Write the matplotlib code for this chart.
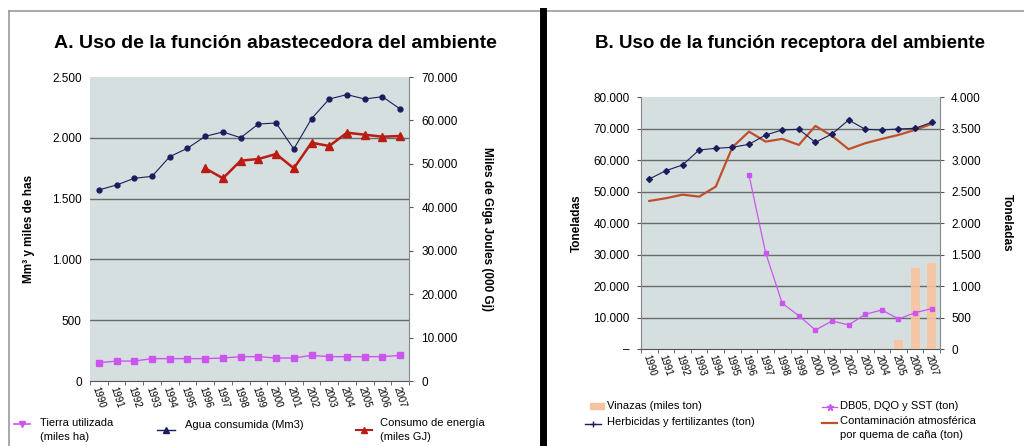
import numpy as np
import matplotlib
matplotlib.use("Agg")
import matplotlib.pyplot as plt
from matplotlib.lines import Line2D
from matplotlib.patches import Rectangle
from matplotlib.ticker import FuncFormatter

plt.rcParams['font.family'] = ['Liberation Sans', 'DejaVu Sans']

years = ['1990', '1991', '1992', '1993', '1994', '1995', '1996', '1997', '1998',
         '1999', '2000', '2001', '2002', '2003', '2004', '2005', '2006', '2007']

# Panel A
tierra = [150, 164, 164, 184, 184, 184, 184, 189, 200, 200, 189, 189, 211, 200, 200, 200, 200, 211]
agua = [1571, 1612, 1667, 1683, 1845, 1914, 2012, 2048, 2001, 2113, 2122, 1908, 2157, 2319, 2355, 2319, 2338, 2237]
energia = [np.nan, np.nan, np.nan, np.nan, np.nan, np.nan, 48977, 46675, 50727, 51118, 52270, 48977,
           54870, 54112, 57175, 56715, 56255, 56415]

# Panel B
herbicidas = [54037, 56680, 58487, 63256, 63786, 64104, 65058, 68025, 69614, 69826, 65694, 68343,
              72791, 69826, 69614, 69932, 70144, 72049]
contaminacion = [2353, 2396, 2453, 2421, 2580, 3206, 3455, 3296, 3339, 3243, 3545, 3386,
                 3175, 3270, 3339, 3402, 3482, 3577]
db05 = [np.nan, np.nan, np.nan, np.nan, np.nan, np.nan, 2766, 1531, 727, 530, 302, 445,
        382, 551, 620, 477, 577, 641]
vinazas = [0, 0, 0, 0, 0, 0, 0, 0, 0, 0, 0, 0, 0, 0, 0, 143, 1283, 1362]

BG = '#d6dfe0'
GRID = '#6a6a6a'
NAVY = '#1c1c5c'
RED = '#b81c14'
PURPLE = '#cc55ee'
BROWN = '#c0502a'
PEACH = '#f8c4a0'

def thousands(x, pos):
    return f"{int(round(x)):,}".replace(',', '.')

W, H = 1024, 446
fig = plt.figure(figsize=(W / 100, H / 100), dpi=100)

def fx(px):
    return px / W

def fy(py):
    return 1 - py / H

x = np.arange(len(years))

# ---------------- Panel A ----------------
axA = fig.add_axes([fx(90), fy(381), fx(409) - fx(90), fy(77) - fy(381)])
axA.set_facecolor(BG)
axA.set_xlim(-0.5, len(years) - 0.5)
axA.set_ylim(0, 2500)
axA.set_yticks([0, 500, 1000, 1500, 2000, 2500])
axA.yaxis.set_major_formatter(FuncFormatter(thousands))
for v in [500, 1000, 1500, 2000]:
    axA.axhline(v, color=GRID, lw=1.0, zorder=1)
axA.plot(x, agua, color=NAVY, lw=0.8, marker='o', ms=3.5, zorder=4)
axA.plot(x, tierra, color=PURPLE, lw=1.0, marker='s', ms=4, zorder=4)
axA.set_xticks(x)
axA.set_xticklabels(years, rotation=-72, fontsize=7, ha='center', va='top')
axA.set_xticks(np.arange(-0.5, len(years)), minor=True)
axA.tick_params(axis='x', which='major', length=0, pad=3)
axA.tick_params(axis='x', which='minor', length=3, color='#555555')
axA.tick_params(axis='y', length=0, labelsize=8.5, pad=6)
for s in ['top', 'right', 'left']:
    axA.spines[s].set_visible(False)
axA.spines['bottom'].set_color('#555555')
axA.set_ylabel('Mm³ y miles de has', fontsize=8.5, fontweight='bold', labelpad=12)

axA2 = axA.twinx()
axA2.set_ylim(0, 70000)
axA2.set_yticks(np.arange(0, 70001, 10000))
axA2.yaxis.set_major_formatter(FuncFormatter(thousands))
axA2.plot(x, energia, color=RED, lw=1.8, marker='^', ms=6, zorder=5)
axA2.tick_params(axis='y', length=3, color='#555555', labelsize=8.5, pad=6)
for s in ['top', 'left', 'bottom']:
    axA2.spines[s].set_visible(False)
axA2.spines['right'].set_color('#888888')
axA2.set_ylabel('Miles de Giga Joules (000 Gj)', fontsize=8.5, fontweight='bold',
                rotation=270, labelpad=25)

fig.text(fx(275), fy(44), 'A. Uso de la función abastecedora del ambiente', ha='center', va='center',
         fontsize=14, fontweight='bold')

# ---------------- Panel B ----------------
axB = fig.add_axes([fx(641), fy(349), fx(940) - fx(641), fy(97.3) - fy(349)])
axB.set_facecolor(BG)
axB.set_xlim(-0.5, len(years) - 0.5)
axB.set_ylim(0, 80000)
axB.set_yticks(np.arange(0, 80001, 10000))
axB.yaxis.set_major_formatter(FuncFormatter(lambda v, p: '–' if v == 0 else thousands(v, p)))
for v in np.arange(10000, 70001, 10000):
    axB.axhline(v, color=GRID, lw=1.0, zorder=1)
axB.set_xticks(x)
axB.set_xticklabels(years, rotation=-72, fontsize=7, ha='center', va='top')
axB.set_xticks(np.arange(-0.5, len(years)), minor=True)
axB.tick_params(axis='x', which='major', length=0, pad=3)
axB.tick_params(axis='x', which='minor', length=3, color='#555555')
axB.tick_params(axis='y', length=3, color='#555555', labelsize=8.5, pad=5)
for s in ['top', 'right']:
    axB.spines[s].set_visible(False)
axB.spines['left'].set_color('#888888')
axB.spines['bottom'].set_color('#555555')
axB.set_ylabel('Toneladas', fontsize=8.5, fontweight='bold', labelpad=8)

axB2 = axB.twinx()
axB2.set_ylim(0, 4000)
axB2.set_yticks(np.arange(0, 4001, 500))
axB2.yaxis.set_major_formatter(FuncFormatter(thousands))
axB2.bar(x, vinazas, width=0.55, color=PEACH, alpha=0.9, zorder=2)
axB2.plot(x, contaminacion, color=BROWN, lw=1.6, zorder=4)
axB2.plot(x, db05, color=PURPLE, lw=0.9, marker='s', ms=3.5, zorder=5)
axB2.tick_params(axis='y', length=3, color='#555555', labelsize=8.5, pad=5)
for s in ['top', 'left', 'bottom']:
    axB2.spines[s].set_visible(False)
axB2.spines['right'].set_color('#888888')
axB2.set_ylabel('Toneladas', fontsize=8.5, fontweight='bold', rotation=270, labelpad=23)
axB.set_zorder(axB2.get_zorder() - 1)
axB2.patch.set_visible(False)
# herbicidas belong to the left (0-80.000) scale: 80.000 / 4.000 = 20
scaleB = axB.get_ylim()[1] / axB2.get_ylim()[1]
axB2.plot(x, np.array(herbicidas) / scaleB, color=NAVY, lw=0.8, marker='D', ms=3, zorder=6)

fig.text(fx(790), fy(44), 'B. Uso de la función receptora del ambiente', ha='center', va='center',
         fontsize=13.5, fontweight='bold')

# ---------------- Frame ----------------
fig.add_artist(Line2D([fx(9), fx(1024)], [fy(11), fy(11)], color='#999999', lw=1.2))
fig.add_artist(Line2D([fx(9), fx(9)], [fy(11), fy(446)], color='#999999', lw=1.2))
fig.add_artist(Line2D([fx(543), fx(543)], [fy(11), fy(446)], color='black', lw=5))

# ---------------- Legends ----------------
LF = 8

def leg_line(x0, x1, y, color, marker=None, ms=4, lw=1.0):
    fig.add_artist(Line2D([fx(x0), fx(x1)], [fy(y), fy(y)], color=color, lw=lw))
    if marker:
        fig.add_artist(Line2D([fx((x0 + x1) / 2)], [fy(y)], color=color, marker=marker, ms=ms, lw=0))

leg_line(14, 30, 424, PURPLE, 'v', 5, 1.2)
fig.text(fx(40), fy(418), 'Tierra utilizada\n(miles ha)', fontsize=LF, va='top', ha='left',
         linespacing=1.45)
leg_line(157, 175, 430, NAVY, '^', 4, 1.0)
fig.text(fx(185), fy(425), 'Agua consumida (Mm3)', fontsize=LF, va='center', ha='left')
leg_line(356, 372, 430, RED, '^', 5, 1.5)
fig.text(fx(380), fy(418), 'Consumo de energía\n(miles GJ)', fontsize=LF, va='top', ha='left',
         linespacing=1.45)

fig.add_artist(Rectangle((fx(590), fy(409)), fx(14), fy(403) - fy(409), color=PEACH,
                         transform=fig.transFigure))
fig.text(fx(607), fy(406), 'Vinazas (miles ton)', fontsize=LF, va='center', ha='left')
leg_line(585, 601, 424, NAVY, '+', 5, 1.0)
fig.text(fx(607), fy(422), 'Herbicidas y fertilizantes (ton)', fontsize=LF, va='center', ha='left')
leg_line(822, 837, 407, PURPLE, '*', 5, 0.9)
fig.text(fx(840), fy(406), 'DB05, DQO y SST (ton)', fontsize=LF, va='center', ha='left')
leg_line(822, 837, 423, BROWN, None, 0, 1.6)
fig.text(fx(840), fy(416), 'Contaminación atmosférica\npor quema de caña (ton)', fontsize=LF,
         va='top', ha='left', linespacing=1.5)

fig.savefig('out.png', dpi=100)
